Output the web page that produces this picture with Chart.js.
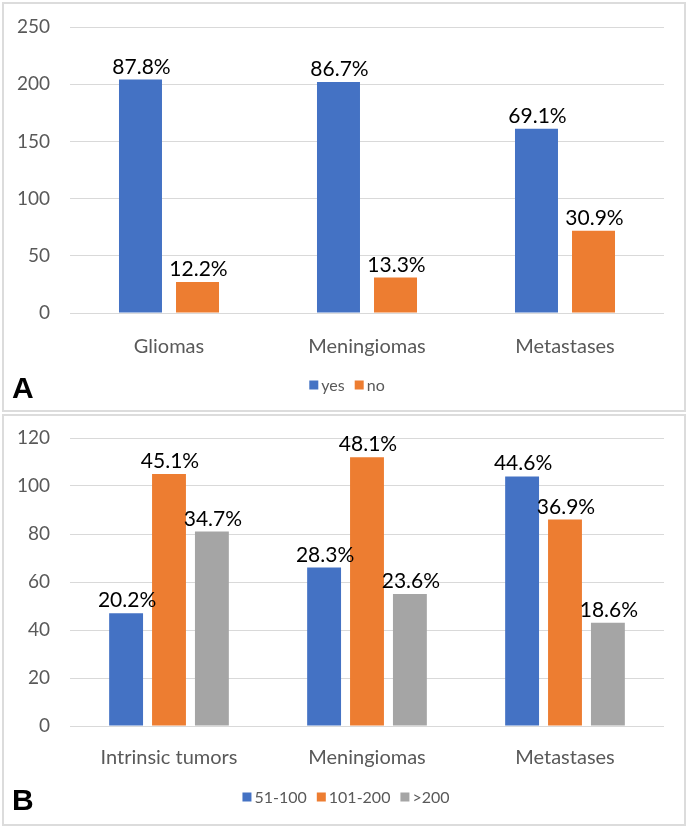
<!DOCTYPE html>
<html>
<head>
<meta charset="utf-8">
<script src="https://cdn.jsdelivr.net/npm/chart.js@4/dist/chart.umd.min.js"></script>
<style>
  html, body { margin: 0; padding: 0; background: #ffffff; }
  body { width: 688px; height: 828px; position: relative; overflow: hidden; }
  .panel { position: absolute; left: 2px; width: 680px; border: 2px solid #dcdcdc; background: #fff; }
  #pa { top: 2px; height: 406px; }
  #pb { top: 414px; height: 408px; }
  .panel canvas { position: absolute; left: 0; top: 0; }
  .tag { position: absolute; left: 8px; font-family: "Liberation Sans", Arial, sans-serif; font-weight: bold; font-size: 30px; color: #000; line-height: 1; }
</style>
</head>
<body>
<div class="panel" id="pa"><canvas id="ca" width="680" height="406" style="width:680px;height:406px"></canvas><div class="tag" style="top:369px">A</div></div>
<div class="panel" id="pb"><canvas id="cb" width="680" height="408" style="width:680px;height:408px"></canvas><div class="tag" style="top:369px">B</div></div>
<script>
// ---- Panel A data ----
const categoriesA = ["Gliomas", "Meningiomas", "Metastases"];
const seriesNamesA = ["yes", "no"];
const yesValues = [204, 202, 161];
const noValues = [27, 31, 72];
const yesLabels = ["87.8%", "86.7%", "69.1%"];
const noLabels = ["12.2%", "13.3%", "30.9%"];
const ticksA = [0, 50, 100, 150, 200, 250];

// ---- Panel B data ----
const categoriesB = ["Intrinsic tumors", "Meningiomas", "Metastases"];
const seriesNamesB = ["51-100", "101-200", ">200"];
const values51to100 = [47, 66, 104];
const values101to200 = [105, 112, 86];
const valuesOver200 = [81, 55, 43];
const labels51to100 = ["20.2%", "28.3%", "44.6%"];
const labels101to200 = ["45.1%", "48.1%", "36.9%"];
const labelsOver200 = ["34.7%", "23.6%", "18.6%"];
const ticksB = [0, 20, 40, 60, 80, 100, 120];

const BLUE = "#4472C4", ORANGE = "#ED7D31", GRAY = "#A5A5A5";
const FONT = "Lato, 'Open Sans', sans-serif";
const TEXT_GRAY = "#595959";

const pctPlugin = {
  id: "pctLabels",
  afterDatasetsDraw(chart) {
    const ctx = chart.ctx;
    ctx.save();
    ctx.font = "21px " + FONT;
    ctx.fillStyle = "#000";
    ctx.textAlign = "center";
    ctx.textBaseline = "alphabetic";
    chart.data.datasets.forEach((ds, di) => {
      const meta = chart.getDatasetMeta(di);
      meta.data.forEach((bar, i) => {
        ctx.fillText(ds.pctLabels[i], bar.x + 1, bar.y - 6);
      });
    });
    ctx.restore();
  }
};

// compact legend: small square, short gap, then the series name
const legendPlugin = {
  id: "compactLegend",
  afterDraw(chart) {
    const o = chart.options.plugins.compactLegend;
    const ctx = chart.ctx;
    ctx.save();
    ctx.font = "16px " + FONT;
    const box = 9, gap = 3, spacing = 10;
    const items = chart.data.datasets.map(ds => ({ text: ds.label, color: ds.backgroundColor, w: box + gap + ctx.measureText(ds.label).width }));
    const total = items.reduce((s, it) => s + it.w, 0) + spacing * (items.length - 1);
    let x = o.cx - total / 2;
    ctx.textBaseline = "middle";
    ctx.textAlign = "left";
    items.forEach(it => {
      ctx.fillStyle = it.color;
      ctx.fillRect(x, o.cy - box / 2, box, box);
      ctx.fillStyle = TEXT_GRAY;
      ctx.fillText(it.text, x + box + gap, o.cy + 1);
      x += it.w + spacing;
    });
    ctx.restore();
  }
};

function makeChart(id, cats, datasets, ticks, maxV, stepV, cfg) {
  return new Chart(document.getElementById(id), {
    type: "bar",
    data: { labels: cats, datasets: datasets },
    options: {
      responsive: false,
      animation: false,
      devicePixelRatio: 1,
      layout: { padding: { top: cfg.top, left: 0, right: 20, bottom: cfg.bottom } },
      plugins: {
        tooltip: { enabled: false },
        legend: { display: false },
        compactLegend: { cx: cfg.lx, cy: cfg.ly }
      },
      datasets: { bar: { categoryPercentage: cfg.cp, barPercentage: cfg.bp } },
      scales: {
        x: {
          grid: { display: false, drawTicks: false },
          border: { display: false },
          ticks: { color: TEXT_GRAY, font: { family: FONT, size: 20 }, padding: cfg.xpad },
          afterFit: (s) => { s.height = cfg.xh; }
        },
        y: {
          min: 0, max: maxV,
          afterBuildTicks: (s) => { s.ticks = ticks.map(v => ({ value: v })); },
          grid: { color: "#d9d9d9", lineWidth: 1, drawTicks: false },
          border: { display: false },
          ticks: { color: TEXT_GRAY, font: { family: FONT, size: 19 }, padding: 20, stepSize: stepV },
          afterFit: (s) => { s.width = 66; s.paddingTop = 0; s.paddingBottom = 0; }
        }
      }
    },
    plugins: [pctPlugin, legendPlugin]
  });
}

makeChart("ca", categoriesA, [
  { label: seriesNamesA[0], data: yesValues, backgroundColor: BLUE, pctLabels: yesLabels },
  { label: seriesNamesA[1], data: noValues, backgroundColor: ORANGE, pctLabels: noLabels }
], ticksA, 250, 50, { top: 23, bottom: 44, xh: 53, xpad: 22, cp: 0.576, bp: 0.754, lx: 343, ly: 381 });

makeChart("cb", categoriesB, [
  { label: seriesNamesB[0], data: values51to100, backgroundColor: BLUE, pctLabels: labels51to100 },
  { label: seriesNamesB[1], data: values101to200, backgroundColor: ORANGE, pctLabels: labels101to200 },
  { label: seriesNamesB[2], data: valuesOver200, backgroundColor: GRAY, pctLabels: labelsOver200 }
], ticksB, 120, 20, { top: 22, bottom: 45, xh: 53, xpad: 20, cp: 0.65, bp: 0.79, lx: 342, ly: 381 });
</script>
</body>
</html>
